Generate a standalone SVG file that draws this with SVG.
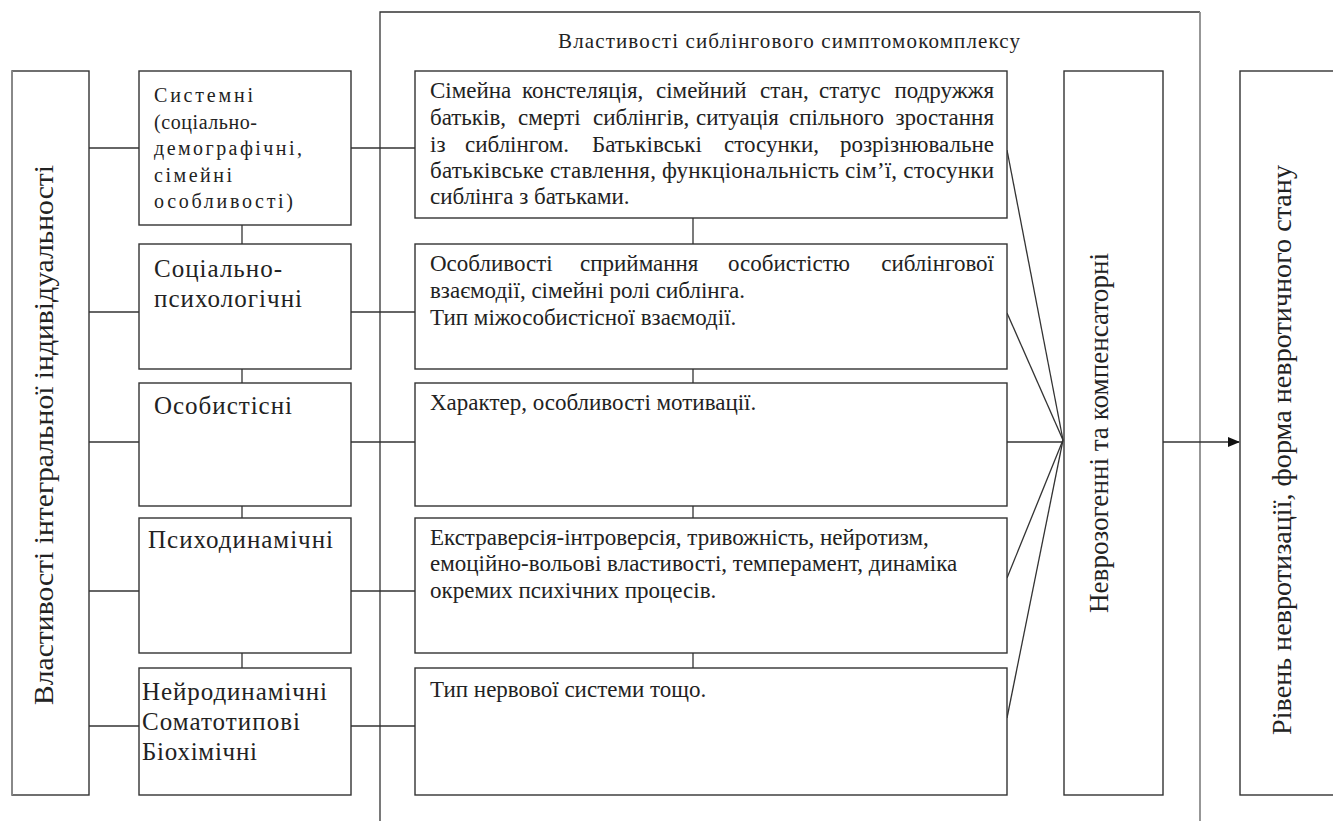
<svg xmlns="http://www.w3.org/2000/svg" width="1333" height="821" viewBox="0 0 1333 821">
<style>
.bx{fill:#fff;stroke:#333;stroke-width:1.4}
.ln{fill:none;stroke:#333;stroke-width:1.3}
.gr{fill:none;stroke:#8c8c8c;stroke-width:1.8}
.t{font-family:"Liberation Serif","Times New Roman",serif;fill:#222}
.c3{font-size:23px}
.c2a{font-size:20px}
.c2b{font-size:25px}
.v{font-size:28px}
</style>
<defs>
<marker id="ah" markerWidth="12" markerHeight="10" refX="11" refY="5" orient="auto" markerUnits="userSpaceOnUse">
<path d="M0,0 L12,5 L0,10 z" fill="#111"/>
</marker>
</defs>
<rect width="1333" height="821" fill="#fff"/>

<g id="sibling-group">
<path class="ln" d="M380,821 V12 H1200"/>
<path class="gr" d="M1200,12 V821"/>
<text class="t" x="558" y="48" font-size="21" textLength="462" lengthAdjust="spacing">Властивості сиблінгового симптомокомплексу</text>
</g>

<g id="connectors">
<line class="ln" x1="89" y1="148" x2="139" y2="148"/>
<line class="ln" x1="89" y1="312" x2="139" y2="312"/>
<line class="ln" x1="89" y1="442" x2="139" y2="442"/>
<line class="ln" x1="89" y1="591" x2="139" y2="591"/>
<line class="ln" x1="89" y1="726" x2="139" y2="726"/>
<line class="ln" x1="351" y1="148" x2="415" y2="148"/>
<line class="ln" x1="351" y1="312" x2="415" y2="312"/>
<line class="ln" x1="351" y1="442" x2="415" y2="442"/>
<line class="ln" x1="351" y1="591" x2="415" y2="591"/>
<line class="ln" x1="351" y1="726" x2="415" y2="726"/>
<line class="ln" x1="242" y1="225" x2="242" y2="244"/>
<line class="ln" x1="242" y1="369" x2="242" y2="383"/>
<line class="ln" x1="242" y1="506" x2="242" y2="518"/>
<line class="ln" x1="242" y1="653" x2="242" y2="668"/>
<line class="ln" x1="693" y1="218" x2="693" y2="244"/>
<line class="ln" x1="693" y1="369" x2="693" y2="383"/>
<line class="ln" x1="693" y1="506" x2="693" y2="518"/>
<line class="ln" x1="693" y1="653" x2="693" y2="668"/>
<line class="ln" x1="1007" y1="150" x2="1063" y2="440"/>
<line class="ln" x1="1007" y1="313" x2="1063" y2="440"/>
<line class="ln" x1="1007" y1="442" x2="1063" y2="442"/>
<line class="ln" x1="1007" y1="578" x2="1063" y2="440"/>
<line class="ln" x1="1007" y1="718" x2="1063" y2="440"/>
<line class="ln" x1="1163" y1="442" x2="1239" y2="442" marker-end="url(#ah)"/>
</g>

<g id="integral">
<rect class="bx" x="12" y="71" width="77" height="724"/>
<path class="gr" d="M12,71 V795"/>
<text class="t v" transform="translate(53,435) rotate(-90)" text-anchor="middle" textLength="540" lengthAdjust="spacingAndGlyphs">Властивості інтегральної індивідуальності</text>
</g>

<g id="systemic">
<rect class="bx" x="139" y="71" width="212" height="154"/>
<text class="t c2a"><tspan x="154" y="102" textLength="99" lengthAdjust="spacing">Системні</tspan><tspan x="154" y="128.5" textLength="103" lengthAdjust="spacing">(соціально-</tspan><tspan x="154" y="155" textLength="148" lengthAdjust="spacing">демографічні,</tspan><tspan x="154" y="181.5" textLength="78" lengthAdjust="spacing">сімейні</tspan><tspan x="154" y="208" textLength="139" lengthAdjust="spacing">особливості)</tspan></text>
</g>

<g id="socpsy">
<rect class="bx" x="139" y="244" width="212" height="125"/>
<text class="t c2b"><tspan x="154" y="277" textLength="128" lengthAdjust="spacing">Соціально-</tspan><tspan x="154" y="307" textLength="148" lengthAdjust="spacing">психологічні</tspan></text>
</g>

<g id="personal">
<rect class="bx" x="139" y="383" width="212" height="123"/>
<text class="t c2b" x="154" y="414" textLength="138" lengthAdjust="spacing">Особистісні</text>
</g>

<g id="psychodyn">
<rect class="bx" x="139" y="518" width="212" height="135"/>
<text class="t c2b" x="148" y="548" textLength="185" lengthAdjust="spacing">Психодинамічні</text>
</g>

<g id="neurodyn">
<rect class="bx" x="139" y="668" width="212" height="127"/>
<text class="t c2b"><tspan x="142" y="700" textLength="185" lengthAdjust="spacing">Нейродинамічні</tspan><tspan x="142" y="730" textLength="158" lengthAdjust="spacing">Соматотипові</tspan><tspan x="142" y="760" textLength="115" lengthAdjust="spacing">Біохімічні</tspan></text>
</g>

<g id="family">
<rect class="bx" x="415" y="71" width="592" height="147"/>
<text class="t c3" y="98"><tspan x="430">Сімейна</tspan><tspan x="522">констеляція,</tspan><tspan x="656">сімейний</tspan><tspan x="760">стан,</tspan><tspan x="819">статус</tspan><tspan x="994" text-anchor="end">подружжя</tspan></text>
<text class="t c3" y="125"><tspan x="430">батьків,</tspan><tspan x="518">смерті</tspan><tspan x="593">сиблінгів,</tspan><tspan x="696">ситуація</tspan><tspan x="789">спільного</tspan><tspan x="994" text-anchor="end">зростання</tspan></text>
<text class="t c3" y="152"><tspan x="430">із</tspan><tspan x="465">сиблінгом.</tspan><tspan x="592">Батьківські</tspan><tspan x="724">стосунки,</tspan><tspan x="994" text-anchor="end">розрізнювальне</tspan></text>
<text class="t c3" x="430" y="178" textLength="564" lengthAdjust="spacing">батьківське ставлення, функціональність сім’ї, стосунки</text>
<text class="t c3" x="430" y="204">сиблінга з батьками.</text>
</g>

<g id="perception">
<rect class="bx" x="415" y="244" width="592" height="125"/>
<text class="t c3" y="271"><tspan x="430">Особливості</tspan><tspan x="580">сприймання</tspan><tspan x="728">особистістю</tspan><tspan x="994" text-anchor="end">сиблінгової</tspan></text>
<text class="t c3" x="430" y="298">взаємодії, сімейні ролі сиблінга.</text>
<text class="t c3" x="430" y="325">Тип міжособистісної взаємодії.</text>
</g>

<g id="character">
<rect class="bx" x="415" y="383" width="592" height="123"/>
<text class="t c3" x="430" y="410">Характер, особливості мотивації.</text>
</g>

<g id="extraversion">
<rect class="bx" x="415" y="518" width="592" height="135"/>
<text class="t c3" x="430" y="545">Екстраверсія-інтроверсія, тривожність, нейротизм,</text>
<text class="t c3" x="430" y="571">емоційно-вольові властивості, темперамент, динаміка</text>
<text class="t c3" x="430" y="598">окремих психічних процесів.</text>
</g>

<g id="nervous">
<rect class="bx" x="415" y="668" width="592" height="127"/>
<text class="t c3" x="430" y="697">Тип нервової системи тощо.</text>
</g>

<g id="neurogenic">
<rect class="bx" x="1064" y="71" width="99" height="724"/>
<text class="t v" transform="translate(1108,433) rotate(-90)" text-anchor="middle" textLength="360" lengthAdjust="spacingAndGlyphs">Неврозогенні та компенсаторні</text>
</g>

<g id="level">
<rect class="bx" x="1240" y="71" width="110" height="724"/>
<text class="t v" transform="translate(1291,450) rotate(-90)" text-anchor="middle" textLength="570" lengthAdjust="spacingAndGlyphs">Рівень невротизації, форма невротичного стану</text>
</g>
</svg>
